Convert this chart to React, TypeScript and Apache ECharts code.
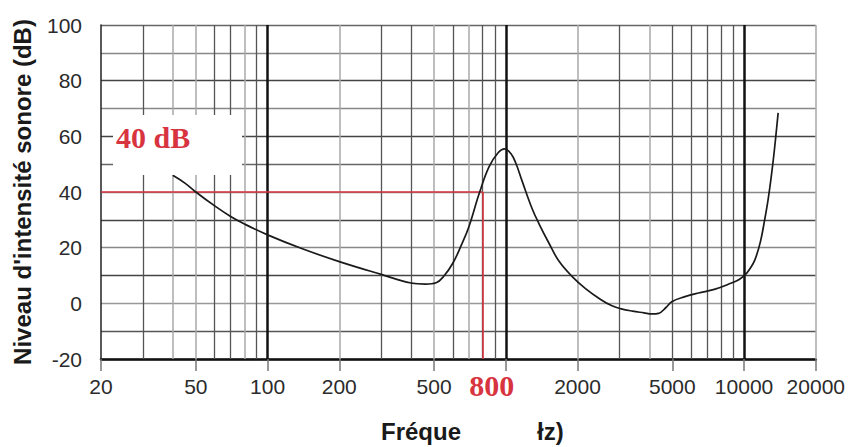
import React, { useEffect, useRef } from "react";
import * as echarts from "echarts";

// Hearing curve (frequency in Hz, level in dB)
const freqHz = [40, 45, 50, 60, 70, 80, 100, 140, 200, 300, 400, 460, 510, 550, 600, 650, 700, 775, 850, 930, 990, 1050, 1100, 1170, 1290, 1380, 1520, 1670, 1900, 2160, 2500, 2790, 3050, 3400, 3800, 4100, 4380, 4700, 4970, 5650, 6430, 7500, 8800, 9500, 10100, 10600, 11100, 11700, 12200, 12600, 13000, 13400, 13900];
const levelDb = [46, 43.2, 40, 35, 31.2, 28.5, 24.6, 19.6, 15, 10.4, 7.3, 6.9, 7.4, 9.8, 14.5, 20.8, 27.5, 39.7, 49, 54.2, 55.5, 53.8, 50.5, 44, 34, 28.5, 21.5, 15.2, 9.6, 5.3, 1.4, -0.9, -2.0, -2.8, -3.4, -3.8, -3.6, -1.5, 0.6, 2.4, 3.7, 5, 7.2, 8.5, 10.2, 12.5, 15.6, 22, 30, 37, 45.4, 55, 68.4];

// Grid lines (Hz) and their shades
const gridFreqs = [30, 40, 50, 60, 70, 80, 90, 100, 200, 300, 400, 500, 600, 700, 800, 900, 1000, 2000, 3000, 4000, 5000, 6000, 7000, 8000, 9000, 10000, 20000];
const lightFreqs = [40, 50, 80, 200, 500, 700, 2000, 4000, 20000];
const majorFreqs = [100, 1000, 10000];

// Axis ticks / labels
const tickFreqs = [20, 50, 100, 200, 500, 1000, 2000, 5000, 10000, 20000];
const labelFreqs = [20, 50, 100, 200, 500, 2000, 5000, 10000, 20000];
const yMin = -20;
const yMax = 100;

// Highlighted reading
const markFreq = 800;
const markLevel = 40;

export default function App() {
  const ref = useRef<HTMLDivElement>(null);
  useEffect(() => {
    if (!ref.current) return;
    const chart = echarts.init(ref.current, undefined, { renderer: "svg" });
    const red = "#d8343f";
    const gridLines = gridFreqs.map((f) => ({
      xAxis: f,
      lineStyle: majorFreqs.includes(f)
        ? { color: "#111", width: 2.5, type: "solid" }
        : lightFreqs.includes(f)
        ? { color: "#a8a8a8", width: 1.5, type: "solid" }
        : { color: "#555", width: 1.3, type: "solid" },
    }));
    const option: any = {
      animation: false,
      backgroundColor: "#fff",
      grid: { left: 101, right: 30, top: 25, bottom: 88 },
      xAxis: {
        type: "log",
        logBase: 10,
        min: 20,
        max: 20000,
        splitLine: { show: false },
        minorTick: { show: false },
        axisLine: { show: true, onZero: false, lineStyle: { color: "#111", width: 2.5 } },
        axisTick: {
          show: true,
          length: 12,
          customValues: tickFreqs,
          lineStyle: { color: "#777", width: 1.5 },
        },
        axisLabel: {
          show: true,
          customValues: labelFreqs,
          fontSize: 21,
          color: "#2b2b2b",
          fontFamily: "Liberation Sans, Arial, sans-serif",
          margin: 17,
          formatter: (v: number) => String(Math.round(v)),
        },
      },
      yAxis: {
        type: "value",
        min: yMin,
        max: yMax,
        interval: 10,
        name: "Niveau d'intensité sonore (dB)",
        nameLocation: "middle",
        nameRotate: 90,
        nameGap: 67,
        nameTextStyle: {
          fontSize: 24,
          fontWeight: "bold",
          color: "#1a1a1a",
          fontFamily: "Liberation Sans, Arial, sans-serif",
        },
        axisLine: { show: true, onZero: false, lineStyle: { color: "#222", width: 1.5 } },
        axisTick: { show: false },
        splitLine: {
          show: true,
          lineStyle: {
            width: 1.4,
            color: ["#222", "#555", "#999", "#444", "#888", "#444", "#888", "#666", "#444", "#888", "#444", "#888", "#666"],
          },
        },
        axisLabel: {
          fontSize: 21,
          color: "#2b2b2b",
          fontFamily: "Liberation Sans, Arial, sans-serif",
          margin: 19,
          formatter: (v: number) => (v % 20 === 0 ? String(v) : ""),
        },
      },
      series: [
        {
          type: "line",
          data: freqHz.map((f, i) => [f, levelDb[i]]),
          smooth: 0.4,
          symbol: "none",
          lineStyle: { color: "#1a1a1a", width: 1.7 },
          z: 5,
          markLine: {
            silent: true,
            symbol: "none",
            label: { show: false },
            emphasis: { disabled: true },
            data: [
              ...gridLines,
              [
                { coord: [20, markLevel], lineStyle: { color: red, width: 1.6, type: "solid" } },
                { coord: [markFreq, markLevel] },
              ],
              [
                {
                  coord: [markFreq, yMin],
                  lineStyle: { color: red, width: 1.6, type: "solid" },
                  label: {
                    show: true,
                    position: "start",
                    formatter: String(markFreq),
                    distance: 11,
                    padding: [0, 0, 0, 18],
                    color: red,
                    fontSize: 30,
                    fontWeight: "bold",
                    fontFamily: "Liberation Serif, Times New Roman, serif",
                  },
                },
                { coord: [markFreq, markLevel] },
              ],
            ],
          },
        },
      ],
      graphic: [
        { type: "rect", z: 10, shape: { x: 113, y: 115, width: 129, height: 60 }, style: { fill: "#fff" } },
        {
          type: "text",
          z: 11,
          x: 116,
          y: 137,
          style: {
            text: `${markLevel} dB`,
            fill: red,
            font: "bold 30px 'Liberation Serif', 'Times New Roman', serif",
            textAlign: "left",
            textVerticalAlign: "middle",
          },
        },
        {
          type: "text",
          z: 11,
          x: 381,
          y: 431,
          style: {
            text: "Fréque",
            fill: "#1a1a1a",
            font: "bold 24px 'Liberation Sans', Arial, sans-serif",
            textAlign: "left",
            textVerticalAlign: "middle",
          },
        },
        {
          type: "text",
          z: 11,
          x: 537,
          y: 431,
          style: {
            text: "łz)",
            fill: "#1a1a1a",
            font: "bold 24px 'Liberation Sans', Arial, sans-serif",
            textAlign: "left",
            textVerticalAlign: "middle",
          },
        },
      ],
    };
    chart.setOption(option);
    return () => chart.dispose();
  }, []);
  return (
    <div
      ref={ref}
      style={{ position: "fixed", left: 0, top: 0, width: 848, height: 447, background: "#fff" }}
    />
  );
}
